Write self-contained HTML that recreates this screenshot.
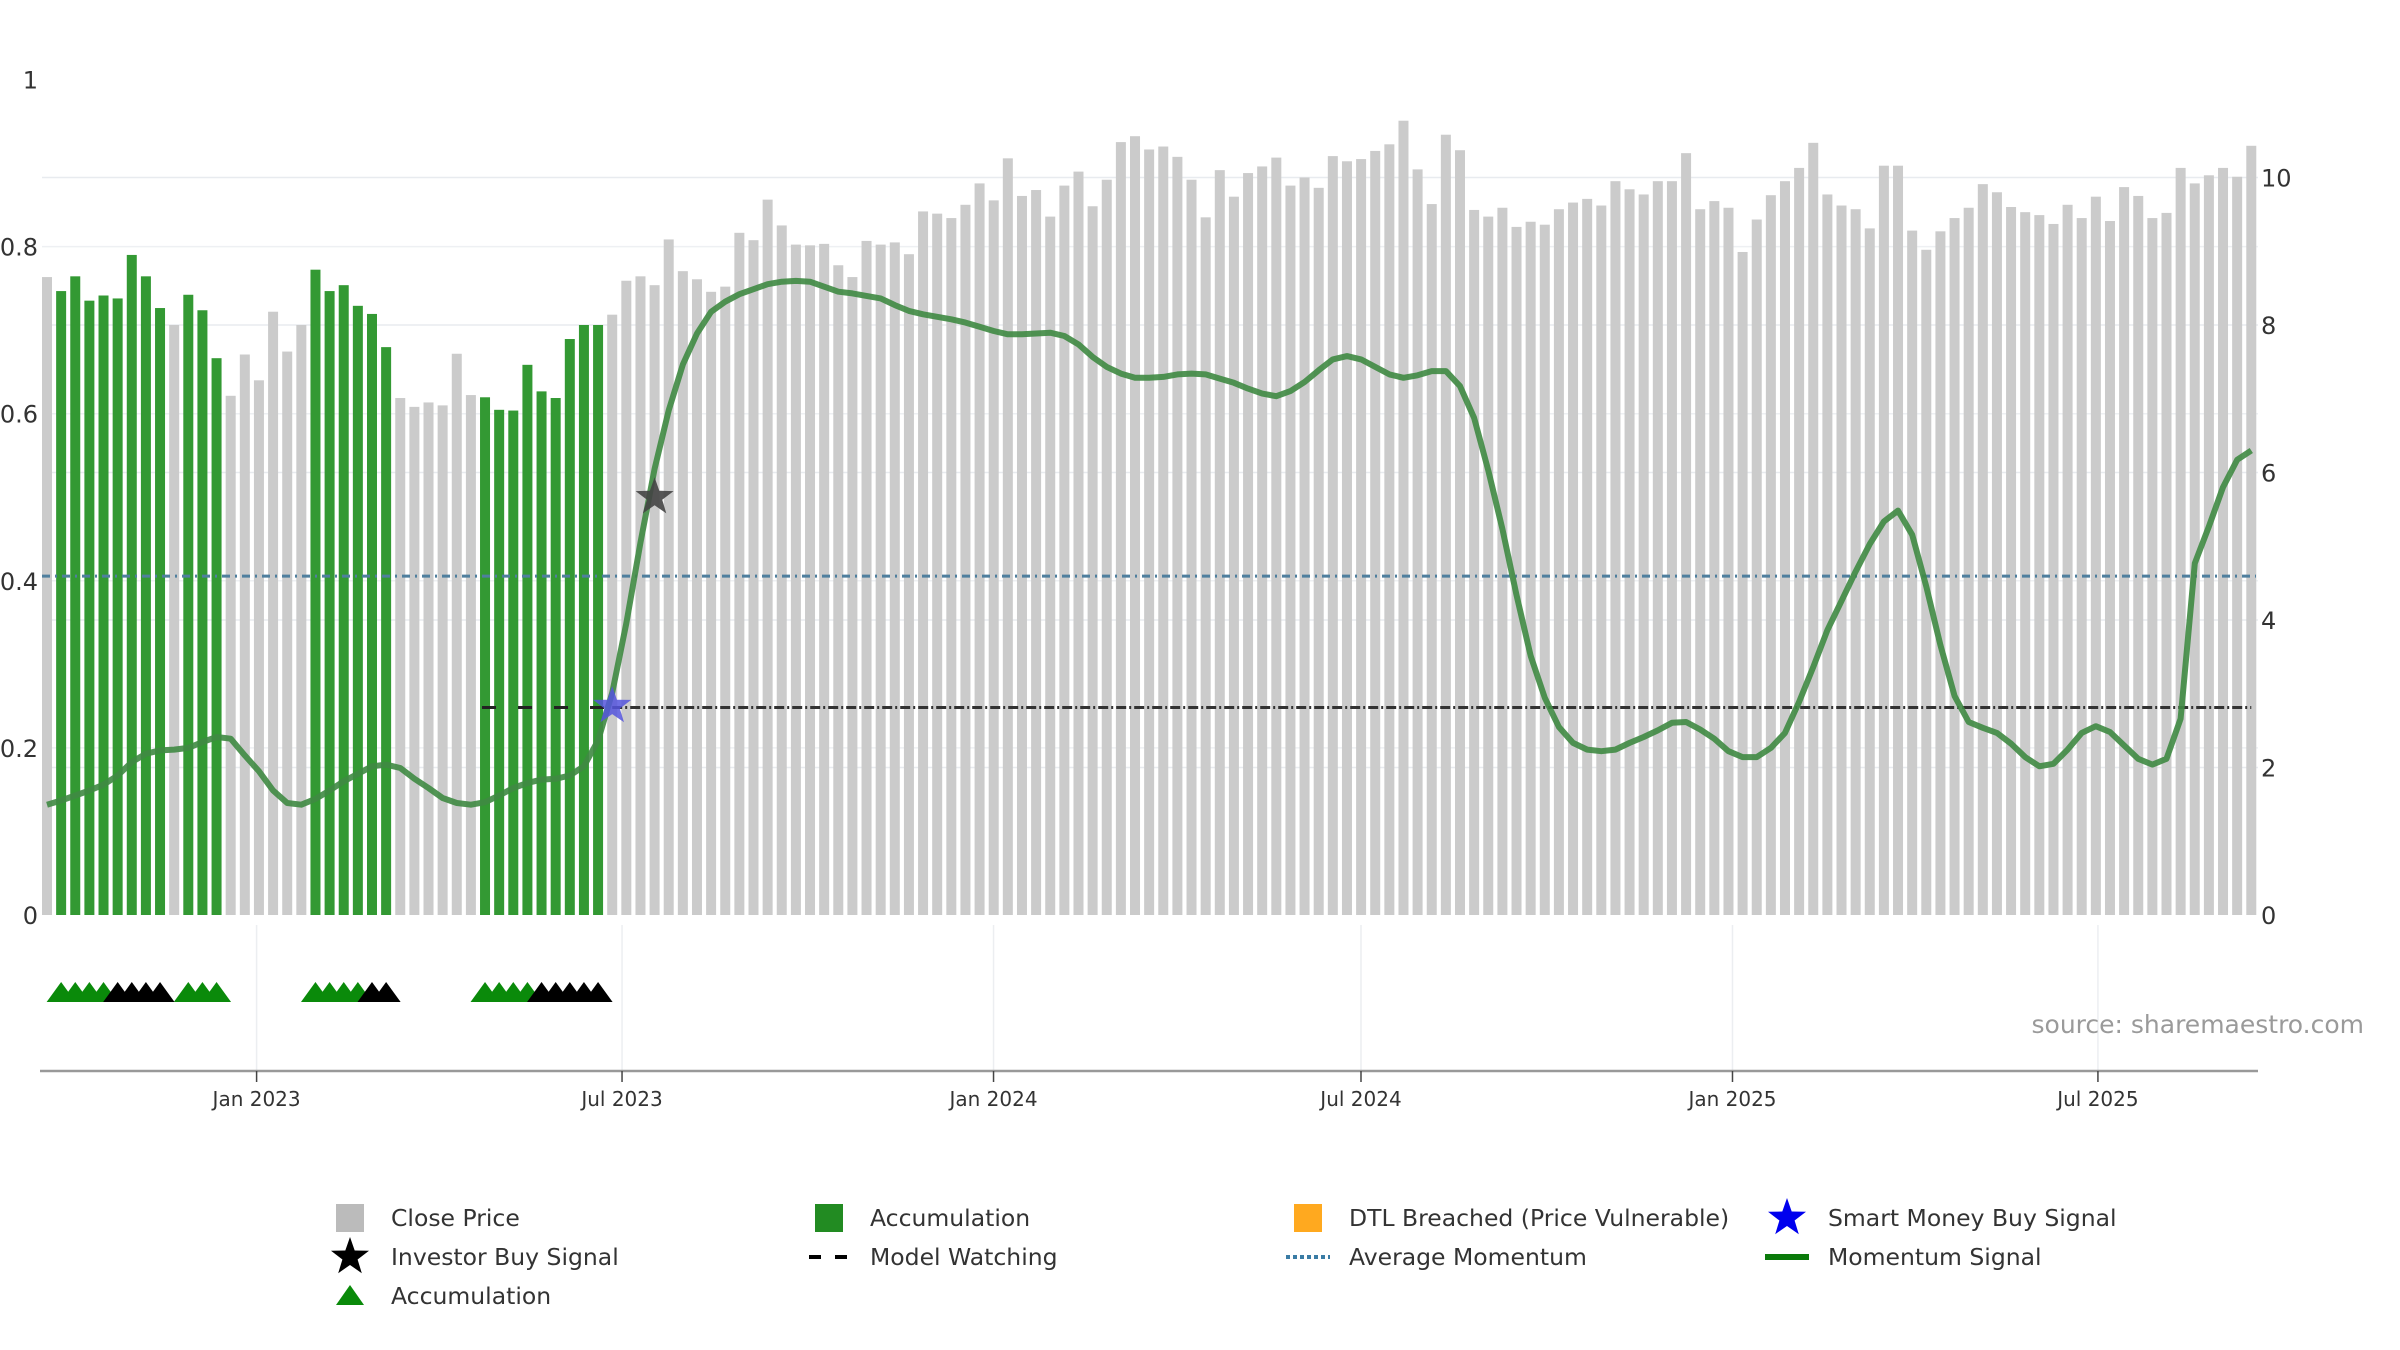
<!DOCTYPE html>
<html><head><meta charset="utf-8">
<style>
html,body{margin:0;padding:0;background:#fff;}
svg{display:block;font-family:"DejaVu Sans","Liberation Sans",sans-serif;}
</style></head>
<body>
<svg id="chart" width="2400" height="1350" viewBox="0 0 2400 1350" xmlns="http://www.w3.org/2000/svg">
<g id="grid"></g>
<g id="bars"></g>
<g id="lines"></g>
<g id="markers"></g>
<g id="axes"></g>
<text x="2364" y="1033" text-anchor="end" font-size="25" fill="#9a9a9a">source: sharemaestro.com</text>
<g id="legend"></g>
</svg>
<script>
// ---- data ----
const closePrices = [8.65,8.46,8.66,8.33,8.40,8.36,8.95,8.66,8.23,8.00,8.41,8.20,7.55,7.04,7.60,7.25,8.18,7.64,8.00,8.75,
8.46,8.54,8.26,8.15,7.70,7.01,6.89,6.95,6.91,7.61,7.05,7.02,6.85,6.84,7.46,7.10,7.01,7.81,8.00,8.00,
8.14,8.60,8.66,8.54,9.16,8.73,8.62,8.45,8.52,9.25,9.15,9.70,9.35,9.09,9.08,9.10,8.81,8.65,9.14,9.09,
9.12,8.96,9.54,9.51,9.45,9.63,9.92,9.69,10.26,9.75,9.83,9.47,9.89,10.08,9.61,9.97,10.48,10.56,10.38,10.42,
10.28,9.97,9.46,10.10,9.74,10.06,10.15,10.27,9.89,10.00,9.86,10.29,10.22,10.25,10.36,10.45,10.77,10.11,9.64,10.58,
10.37,9.56,9.47,9.59,9.33,9.40,9.36,9.57,9.66,9.71,9.62,9.95,9.84,9.77,9.95,9.95,10.33,9.57,9.68,9.59,
8.99,9.43,9.76,9.95,10.13,10.47,9.77,9.62,9.57,9.31,10.16,10.16,9.28,9.02,9.27,9.45,9.59,9.91,9.80,9.60,
9.53,9.49,9.37,9.63,9.45,9.74,9.41,9.87,9.75,9.45,9.52,10.13,9.92,10.03,10.13,10.01,10.43];
const accumulationFlags = [0,1,1,1,1,1,1,1,1,0,1,1,1,0,0,0,0,0,0,1,1,1,1,1,1,0,0,0,0,0,0,1,1,1,1,1,1,1,1,1];
const momentum = [0.132,0.137,0.143,0.149,0.156,0.167,0.183,0.193,0.197,0.198,0.200,0.207,0.213,0.211,0.191,0.172,0.149,0.134,0.132,0.139,
0.149,0.160,0.169,0.178,0.180,0.176,0.163,0.152,0.140,0.134,0.132,0.135,0.143,0.152,0.158,0.162,0.163,0.167,0.178,0.209,
0.266,0.349,0.446,0.534,0.604,0.659,0.696,0.722,0.734,0.743,0.749,0.755,0.758,0.759,0.758,0.752,0.746,0.744,0.741,0.738,
0.730,0.723,0.719,0.716,0.713,0.709,0.704,0.699,0.695,0.695,0.696,0.697,0.693,0.683,0.668,0.656,0.648,0.643,0.643,0.644,
0.647,0.648,0.647,0.642,0.637,0.630,0.624,0.621,0.627,0.638,0.652,0.665,0.669,0.665,0.656,0.647,0.643,0.646,0.651,0.651,
0.633,0.595,0.532,0.462,0.383,0.310,0.260,0.225,0.206,0.198,0.196,0.198,0.206,0.213,0.221,0.230,0.231,0.222,0.211,0.196,
0.189,0.189,0.200,0.218,0.255,0.297,0.341,0.376,0.411,0.444,0.471,0.484,0.455,0.393,0.323,0.262,0.231,0.224,0.218,0.205,
0.189,0.178,0.181,0.198,0.218,0.226,0.219,0.203,0.187,0.180,0.187,0.235,0.421,0.465,0.512,0.545,0.556];
const averageMomentum = 0.4056;
const modelWatchingLevel = 0.2484;
const modelWatchingStart = 31;
const greenTriangleBars = [1,2,3,4,10,11,12,19,20,21,22,31,32,33,34];
const blackTriangleBars = [5,6,7,8,23,24,35,36,37,38,39];
const investorSignal = {bar:43, value:0.5};
const smartMoneySignal = {bar:40, value:0.25};
const leftTicks = [0,0.2,0.4,0.6,0.8,1];
const leftTickLabels = ["0","0.2","0.4","0.6","0.8","1"];
const rightTicks = [0,2,4,6,8,10];
const xTickDates = ["2023-01-01","2023-07-01","2024-01-01","2024-07-01","2025-01-01","2025-07-01"];
const xTickLabels = ["Jan 2023","Jul 2023","Jan 2024","Jul 2024","Jan 2025","Jul 2025"];

// ---- scales ----
const NS="http://www.w3.org/2000/svg";
const Y0=915, LEFT_PX=835.5, RIGHT_PX=73.75;
const yL=v=>Y0-v*LEFT_PX;
const yR=v=>Y0-v*RIGHT_PX;
const xBar=i=>47+i*14.13;
const jan2023=Date.UTC(2023,0,1);
const xDate=s=>256.6+(Date.parse(s+"T00:00:00Z")-jan2023)/86400000*2.019;
function mk(tag,attrs,parent){const e=document.createElementNS(NS,tag);for(const k in attrs)e.setAttribute(k,attrs[k]);parent.appendChild(e);return e;}
const gGrid=document.getElementById('grid'),gBars=document.getElementById('bars'),gLines=document.getElementById('lines'),gMark=document.getElementById('markers'),gAx=document.getElementById('axes'),gLeg=document.getElementById('legend');

// grid
leftTicks.forEach(v=>{if(v>0&&v<1){const l=mk('line',{x1:42,x2:2258,y1:yL(v),y2:yL(v),stroke:'#eef0f3','stroke-width':1.5},gGrid);

}});
rightTicks.forEach(v=>{if(v>0){const l=mk('line',{x1:42,x2:2258,y1:yR(v),y2:yR(v),stroke:'#e8ebef','stroke-width':1.5},gGrid);

}});
xTickDates.forEach(d=>{const x=xDate(d);const l=mk('line',{x1:x,x2:x,y1:925,y2:1070,stroke:'#eceef1','stroke-width':1.5},gGrid);

});

// bars
closePrices.forEach((p,i)=>{const acc=accumulationFlags[i]===1;
const r=mk('rect',{x:xBar(i)-5,y:yR(p),width:10,height:Y0-yR(p),fill:acc?'#339933':'#cbcbcb'},gBars);

});

// average momentum
const am=mk('line',{x1:42,x2:2256,y1:yL(averageMomentum),y2:yL(averageMomentum),stroke:'#4f7f9e','stroke-width':3,'stroke-dasharray':'8 5 2 5'},gLines);


// model watching
const mwY=yL(modelWatchingLevel);
const mw1=mk('line',{x1:xBar(modelWatchingStart)-3,x2:xBar(40),y1:mwY,y2:mwY,stroke:'#222','stroke-width':3,'stroke-dasharray':'14 22'},gLines);


const mw2=mk('line',{x1:xBar(40),x2:xBar(closePrices.length-1),y1:mwY,y2:mwY,stroke:'#333','stroke-width':3,'stroke-dasharray':'10 3 2 3'},gLines);


// momentum
const pts=momentum.map((v,i)=>xBar(i).toFixed(1)+','+yL(v).toFixed(1)).join(' ');
const ml=mk('polyline',{points:pts,fill:'none',stroke:'#3f8a42','stroke-width':6,'stroke-linejoin':'round','stroke-opacity':0.9},gLines);



function starPath(cx,cy,R){const r=R*0.4;let d='';for(let k=0;k<10;k++){const a=-Math.PI/2+k*Math.PI/5;const rr=k%2?r:R;d+=(k?'L':'M')+(cx+rr*Math.cos(a)).toFixed(1)+' '+(cy+rr*Math.sin(a)).toFixed(1);}return d+'Z';}
const s1=mk('path',{d:starPath(xBar(investorSignal.bar),yL(investorSignal.value),20),fill:'#444','fill-opacity':0.9},gMark);


const s2=mk('path',{d:starPath(xBar(smartMoneySignal.bar),yL(smartMoneySignal.value),20),fill:'#5555dd','fill-opacity':0.85},gMark);



// triangles
function tri(i,color,name){const x=xBar(i);const t=mk('path',{d:`M${x-14.5} 1002 L${x} 982 L${x+14.5} 1002 Z`,fill:color},gMark);

}
greenTriangleBars.forEach(i=>tri(i,'#0a8a0a','accumulation-triangle'));
blackTriangleBars.forEach(i=>tri(i,'#000','watching-triangle'));

// axes
const ax=mk('line',{x1:40,x2:2258,y1:1071,y2:1071,stroke:'#999','stroke-width':2.5},gAx);


xTickDates.forEach((d,k)=>{const x=xDate(d);
const t=mk('line',{x1:x,x2:x,y1:1071,y2:1082,stroke:'#444','stroke-width':1.5},gAx);


const tx=mk('text',{x:x,y:1106,'text-anchor':'middle','font-size':20,fill:'#333'},gAx);tx.textContent=xTickLabels[k];

});
leftTicks.forEach((v,k)=>{const tx=mk('text',{x:38,y:yL(v)+9,'text-anchor':'end','font-size':24,fill:'#333'},gAx);tx.textContent=leftTickLabels[k];

});
rightTicks.forEach(v=>{const tx=mk('text',{x:2261,y:yR(v)+9,'font-size':24,fill:'#333'},gAx);tx.textContent=String(v);

});

// legend
const legItems=[
 {c:350,r:1218,t:'Close Price',m:'sq',col:'#bbbbbb'},
 {c:829,r:1218,t:'Accumulation',m:'sq',col:'#228b22'},
 {c:1308,r:1218,t:'DTL Breached (Price Vulnerable)',m:'sq',col:'#ffa91f'},
 {c:1787,r:1218,t:'Smart Money Buy Signal',m:'star',col:'#0000ee'},
 {c:350,r:1257,t:'Investor Buy Signal',m:'star',col:'#000'},
 {c:829,r:1257,t:'Model Watching',m:'dash',col:'#000'},
 {c:1308,r:1257,t:'Average Momentum',m:'dot',col:'#3a7ca5'},
 {c:1787,r:1257,t:'Momentum Signal',m:'line',col:'#0a7a0a'},
 {c:350,r:1296,t:'Accumulation',m:'tri',col:'#0a8a0a'}];
legItems.forEach(it=>{const g=mk('g',{},gLeg);


const c=it.c,r=it.r;
if(it.m==='sq')mk('rect',{x:c-14,y:r-14,width:28,height:28,fill:it.col},g);
else if(it.m==='star')mk('path',{d:starPath(c,r,20),fill:it.col},g);
else if(it.m==='tri')mk('path',{d:`M${c-14} ${r+9} L${c} ${r-11} L${c+14} ${r+9} Z`,fill:it.col},g);
else if(it.m==='dash'){mk('line',{x1:c-20,x2:c-8,y1:r,y2:r,stroke:'#000','stroke-width':4},g);mk('line',{x1:c+6,x2:c+18,y1:r,y2:r,stroke:'#000','stroke-width':4},g);}
else if(it.m==='dot')mk('line',{x1:c-22,x2:c+22,y1:r,y2:r,stroke:it.col,'stroke-width':4,'stroke-dasharray':'4 3'},g);
else mk('line',{x1:c-22,x2:c+22,y1:r,y2:r,stroke:it.col,'stroke-width':6},g);
const tx=mk('text',{x:c+41,y:r+8,'font-size':23.5,fill:'#333'},g);tx.textContent=it.t;});
</script>
</body></html>
